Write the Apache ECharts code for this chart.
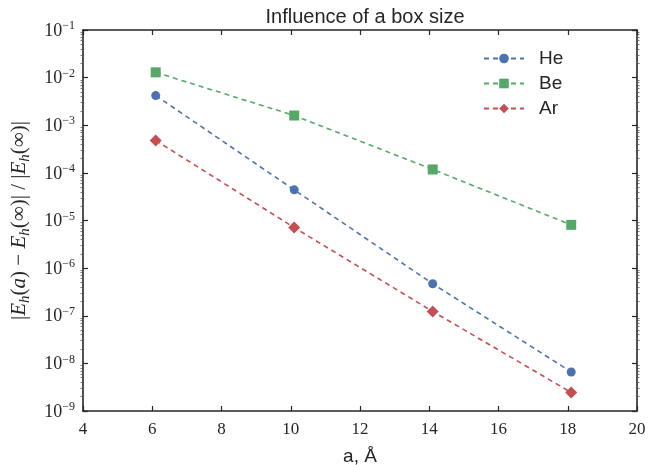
<!DOCTYPE html>
<html><head><meta charset="utf-8">
<script src="https://cdn.jsdelivr.net/npm/echarts@6/dist/echarts.min.js"></script>
<style>html,body{margin:0;padding:0;background:#fff}#c{width:648px;height:465px}</style>
</head><body><div id="c"></div>
<script>
const xValues = [6.1, 10.1, 14.1, 18.1];
const heValues = [4.2e-3, 4.4e-5, 4.7e-7, 6.6e-9];
const beValues = [1.29e-2, 1.6e-3, 1.18e-4, 8.1e-6];
const arValues = [4.8e-4, 7.1e-6, 1.23e-7, 2.45e-9];
const seriesNames = ['He', 'Be', 'Ar'];
const xTicks = [4, 6, 8, 10, 12, 14, 16, 18, 20];
const yExponents = [-9, -8, -7, -6, -5, -4, -3, -2, -1];

const minorVals = [];
for (let e = -9; e < -1; e++) for (let k = 2; k <= 9; k++) minorVals.push(k * Math.pow(10, e));

const spine = '#262626';
const grid = {left: 83, right: 11, top: 30, bottom: 54, outerBoundsMode: 'none', containLabel: false};
const pair = (xs, ys) => xs.map((x, i) => [x, ys[i]]);
const sup = s => s.replace('-', '\u2212');

const chart = echarts.init(document.getElementById('c'), null, {renderer: 'canvas'});
const baseX = {type: 'value', min: 4, max: 20, interval: 2, splitLine: {show: false},
  axisLine: {show: true, onZero: false, lineStyle: {color: spine, width: 1.6}},
  axisTick: {show: true, inside: true, length: 5, lineStyle: {color: spine, width: 1.2}}};
const baseY = {type: 'log', logBase: 10, min: 1e-9, max: 1e-1, interval: 1, splitLine: {show: false},
  axisLine: {show: true, onZero: false, lineStyle: {color: spine, width: 1.6}},
  axisTick: {show: true, inside: true, length: 5, lineStyle: {color: spine, width: 1.2}}};
const minorY = (pos) => Object.assign({}, baseY, {position: pos, axisLabel: {show: false},
  axisLine: {show: false},
  axisTick: {show: true, inside: false, length: 2.5, customValues: minorVals, lineStyle: {color: '#555', width: 0.8}}});

chart.setOption({
  animation: false,
  title: {text: 'Influence of a box size', left: 360, top: 2, textAlign: 'center',
    textStyle: {fontFamily: 'Liberation Sans', fontWeight: 'normal', fontSize: 20, color: '#262626'}},
  grid: grid,
  legend: {data: seriesNames, orient: 'vertical', left: 478, top: 44, itemWidth: 40, itemHeight: 12, itemGap: 6,
    textStyle: {fontFamily: 'Liberation Sans', fontSize: 19, color: '#262626', padding: [0, 0, 0, 10]}},
  xAxis: [
    Object.assign({}, baseX, {position: 'bottom',
      name: 'a, \u00C5', nameLocation: 'middle', nameGap: 36,
      nameTextStyle: {fontFamily: 'Liberation Sans', fontSize: 19, color: '#262626'},
      axisLabel: {margin: 10, fontFamily: 'Liberation Serif', fontSize: 17, color: '#262626',
        customValues: xTicks}}),
    Object.assign({}, baseX, {position: 'top', axisLabel: {show: false}})
  ],
  yAxis: [
    Object.assign({}, baseY, {position: 'left',
      name: '{b||}{i|E}{s|h}{b|(}{i|a}{b|) \u2212 }{i|E}{s|h}{b|(\u221E)| / |}{i|E}{s|h}{b|(\u221E)|}',
      nameLocation: 'middle', nameRotate: 90, nameGap: 50,
      nameTextStyle: {rich: {
        b: {fontFamily: 'Liberation Serif', fontSize: 21, color: '#262626', lineHeight: 27, verticalAlign: 'middle'},
        i: {fontFamily: 'Liberation Serif', fontStyle: 'italic', fontSize: 21, color: '#262626', lineHeight: 27, verticalAlign: 'middle'},
        s: {fontFamily: 'Liberation Serif', fontStyle: 'italic', fontSize: 15, color: '#262626', lineHeight: 27, verticalAlign: 'bottom'}
      }},
      axisLabel: {margin: 8, formatter: v => '{b|10}{p|' + sup(String(Math.round(Math.log10(v)))) + '}',
        rich: {
          b: {fontFamily: 'Liberation Serif', fontSize: 18, color: '#262626', lineHeight: 20, verticalAlign: 'bottom'},
          p: {fontFamily: 'Liberation Serif', fontSize: 12, color: '#262626', lineHeight: 20, verticalAlign: 'top'}
        }}}),
    Object.assign({}, baseY, {position: 'right', axisLabel: {show: false}}),
    minorY('left'),
    minorY('right')
  ],
  series: [
    {name: 'He', type: 'line', data: pair(xValues, heValues), symbol: 'circle', symbolSize: 9,
      itemStyle: {color: '#4C72B0'}, lineStyle: {color: '#4C72B0', width: 1.6, type: [5, 4]}},
    {name: 'Be', type: 'line', data: pair(xValues, beValues), symbol: 'rect', symbolSize: 10,
      itemStyle: {color: '#55A868'}, lineStyle: {color: '#55A868', width: 1.6, type: [5, 4]}},
    {name: 'Ar', type: 'line', data: pair(xValues, arValues), symbol: 'diamond', symbolSize: 12,
      itemStyle: {color: '#C44E52'}, lineStyle: {color: '#C44E52', width: 1.6, type: [5, 4]}}
  ]
});
</script></body></html>
